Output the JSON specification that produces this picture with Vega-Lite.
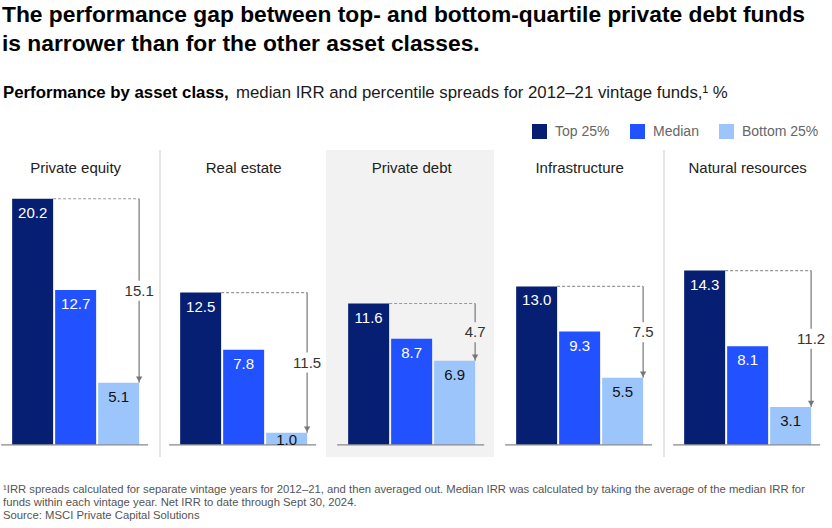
{
  "$schema": "https://vega.github.io/schema/vega-lite/v6.json",
  "padding": {"left": -10, "top": 4, "right": 0, "bottom": 0},
  "background": "white",
  "config": {"font": "Liberation Sans", "view": {"stroke": null}},
  "title": {
    "text": ["The performance gap between top- and bottom-quartile private debt funds", "is narrower than for the other asset classes."],
    "anchor": "start", "fontSize": 22.8, "fontWeight": "bold", "color": "#000000", "lineHeight": 29, "dx": 12, "offset": 29
  },
  "spacing": 42,
  "vconcat": [
    {
      "spacing": 7,
      "hconcat": [
        {
          "width": 1, "height": 1,
          "data": {"values": []},
          "mark": "point",
          "title": {"text": "Performance by asset class,", "anchor": "start", "fontSize": 16.8, "fontWeight": "bold", "color": "#000000", "dx": 13}
        },
        {
          "width": 1, "height": 1,
          "data": {"values": []},
          "mark": "point",
          "title": {"text": "median IRR and percentile spreads for 2012–21 vintage funds,¹ %", "anchor": "start", "fontSize": 16.8, "fontWeight": "normal", "color": "#1a1a1a"}
        }
      ]
    },
    {
      "data": {
        "values": [
          {"asset": "Private equity", "cat": "Top 25%", "value": 20.2, "spread": 15.1},
          {"asset": "Private equity", "cat": "Median", "value": 12.7, "spread": 15.1},
          {"asset": "Private equity", "cat": "Bottom 25%", "value": 5.1, "spread": 15.1},
          {"asset": "Real estate", "cat": "Top 25%", "value": 12.5, "spread": 11.5},
          {"asset": "Real estate", "cat": "Median", "value": 7.8, "spread": 11.5},
          {"asset": "Real estate", "cat": "Bottom 25%", "value": 1.0, "spread": 11.5},
          {"asset": "Private debt", "cat": "Top 25%", "value": 11.6, "spread": 4.7},
          {"asset": "Private debt", "cat": "Median", "value": 8.7, "spread": 4.7},
          {"asset": "Private debt", "cat": "Bottom 25%", "value": 6.9, "spread": 4.7},
          {"asset": "Infrastructure", "cat": "Top 25%", "value": 13.0, "spread": 7.5},
          {"asset": "Infrastructure", "cat": "Median", "value": 9.3, "spread": 7.5},
          {"asset": "Infrastructure", "cat": "Bottom 25%", "value": 5.5, "spread": 7.5},
          {"asset": "Natural resources", "cat": "Top 25%", "value": 14.3, "spread": 11.2},
          {"asset": "Natural resources", "cat": "Median", "value": 8.1, "spread": 11.2},
          {"asset": "Natural resources", "cat": "Bottom 25%", "value": 3.1, "spread": 11.2}
        ]
      },
      "facet": {
        "column": {
          "field": "asset", "type": "nominal",
          "sort": ["Private equity", "Real estate", "Private debt", "Infrastructure", "Natural resources"],
          "header": null
        }
      },
      "spacing": 0,
      "bounds": "flush",
      "title": {
        "text": [
          "¹IRR spreads calculated for separate vintage years for 2012–21, and then averaged out. Median IRR was calculated by taking the average of the median IRR for",
          "\u2002funds within each vintage year. Net IRR to date through Sept 30, 2024.",
          "\u2002Source: MSCI Private Capital Solutions"
        ],
        "orient": "bottom", "anchor": "start", "fontSize": 11.3, "fontWeight": "normal", "color": "#555555", "lineHeight": 13, "dx": 13, "offset": 26
      },
      "spec": {
        "width": 168,
        "height": 307,
        "layer": [
          {
            "transform": [{"filter": "datum.asset === 'Private debt' && datum.cat === 'Median'"}],
            "mark": {"type": "rect", "fill": "#f2f2f2"},
            "encoding": {"x": {"value": 0}, "x2": {"value": "width"}, "y": {"value": 0}, "y2": {"value": "height"}}
          },
          {
            "transform": [{"filter": "(datum.asset === 'Private equity' || datum.asset === 'Infrastructure') && datum.cat === 'Median'"}],
            "mark": {"type": "rule", "color": "#dddddd", "strokeWidth": 1.5, "xOffset": 2},
            "encoding": {"x": {"value": "width"}, "y": {"value": 0}, "y2": {"value": "height"}}
          },
          {
            "mark": {"type": "bar"},
            "encoding": {
              "x": {
                "field": "cat", "type": "nominal", "sort": ["Top 25%", "Median", "Bottom 25%"],
                "scale": {"paddingInner": 0.047, "paddingOuter": 0.477, "align": 0.54},
                "axis": null
              },
              "y": {"field": "value", "type": "quantitative", "scale": {"domain": [-1, 24.2], "nice": false}, "axis": null},
              "color": {
                "field": "cat", "type": "nominal", "sort": ["Top 25%", "Median", "Bottom 25%"],
                "scale": {"domain": ["Top 25%", "Median", "Bottom 25%"], "range": ["#061f73", "#2251ff", "#9cc5fc"]},
                "legend": {
                  "title": null, "orient": "none", "direction": "horizontal", "legendX": 542, "legendY": 18,
                  "symbolType": "square", "symbolSize": 225, "symbolStrokeWidth": 0, "symbolOpacity": 1,
                  "labelFontSize": 14, "labelColor": "#666666", "labelOffset": 8, "columnPadding": 20
                }
              }
            }
          },
          {
            "transform": [{"filter": "datum.cat === 'Median'"}],
            "mark": {"type": "rule", "color": "#888888", "strokeWidth": 1.2, "xOffset": -11, "x2Offset": 9},
            "encoding": {
              "x": {"datum": "Top 25%", "bandPosition": 0},
              "x2": {"datum": "Bottom 25%", "bandPosition": 1},
              "y": {"datum": 0}
            }
          },
          {
            "transform": [
              {"filter": "datum.cat !== 'Median'"},
              {"joinaggregate": [{"op": "max", "field": "value", "as": "top"}], "groupby": ["asset"]}
            ],
            "mark": {"type": "line", "color": "#999999", "strokeWidth": 1.2, "strokeDash": [3, 2]},
            "encoding": {
              "x": {"field": "cat", "type": "nominal", "sort": ["Top 25%", "Median", "Bottom 25%"], "bandPosition": 1},
              "y": {"field": "top", "type": "quantitative"}
            }
          },
          {
            "transform": [
              {"filter": "datum.cat !== 'Median'"},
              {"joinaggregate": [
                {"op": "max", "field": "value", "as": "top"},
                {"op": "min", "field": "value", "as": "bot"},
                {"op": "mean", "field": "value", "as": "mid"}
              ], "groupby": ["asset"]},
              {"filter": "datum.cat === 'Bottom 25%'"}
            ],
            "layer": [
              {
                "mark": {"type": "rule", "color": "#777777", "strokeWidth": 1.2, "y2Offset": -10},
                "encoding": {
                  "x": {"field": "cat", "type": "nominal", "sort": ["Top 25%", "Median", "Bottom 25%"], "bandPosition": 1},
                  "y": {"field": "top", "type": "quantitative"},
                  "y2": {"field": "mid"}
                }
              },
              {
                "mark": {"type": "rule", "color": "#777777", "strokeWidth": 1.2, "yOffset": 10},
                "encoding": {
                  "x": {"field": "cat", "type": "nominal", "sort": ["Top 25%", "Median", "Bottom 25%"], "bandPosition": 1},
                  "y": {"field": "mid", "type": "quantitative"},
                  "y2": {"field": "bot"}
                }
              },
              {
                "mark": {"type": "point", "shape": "triangle-down", "filled": true, "size": 40, "color": "#777777", "opacity": 1, "yOffset": -3.5},
                "encoding": {
                  "x": {"field": "cat", "type": "nominal", "sort": ["Top 25%", "Median", "Bottom 25%"], "bandPosition": 1},
                  "y": {"field": "bot", "type": "quantitative"}
                }
              },
              {
                "mark": {"type": "text", "fontSize": 15, "color": "#333333", "baseline": "middle", "align": "center"},
                "encoding": {
                  "x": {"field": "cat", "type": "nominal", "sort": ["Top 25%", "Median", "Bottom 25%"], "bandPosition": 1},
                  "y": {"field": "mid", "type": "quantitative"},
                  "text": {"field": "spread", "type": "quantitative", "format": ".1f"}
                }
              }
            ]
          },
          {
            "transform": [{"filter": "datum.value >= 2"}],
            "mark": {"type": "text", "fontSize": 15, "baseline": "middle", "align": "center", "dy": 14},
            "encoding": {
              "x": {"field": "cat", "type": "nominal", "sort": ["Top 25%", "Median", "Bottom 25%"]},
              "y": {"field": "value", "type": "quantitative"},
              "text": {"field": "value", "type": "quantitative", "format": ".1f"},
              "color": {"condition": {"test": "datum.cat === 'Bottom 25%'", "value": "#111111"}, "value": "#ffffff"}
            }
          },
          {
            "transform": [{"filter": "datum.value < 2"}],
            "mark": {"type": "text", "fontSize": 15, "baseline": "middle", "align": "center", "dy": 7, "color": "#111111"},
            "encoding": {
              "x": {"field": "cat", "type": "nominal", "sort": ["Top 25%", "Median", "Bottom 25%"]},
              "y": {"field": "value", "type": "quantitative"},
              "text": {"field": "value", "type": "quantitative", "format": ".1f"}
            }
          },
          {
            "transform": [{"filter": "datum.cat === 'Median'"}],
            "mark": {"type": "text", "fontSize": 15, "color": "#222222", "baseline": "middle", "align": "center", "dy": 18},
            "encoding": {
              "x": {"field": "cat", "type": "nominal", "sort": ["Top 25%", "Median", "Bottom 25%"]},
              "y": {"value": 0},
              "text": {"field": "asset"}
            }
          }
        ]
      }
    }
  ]
}
